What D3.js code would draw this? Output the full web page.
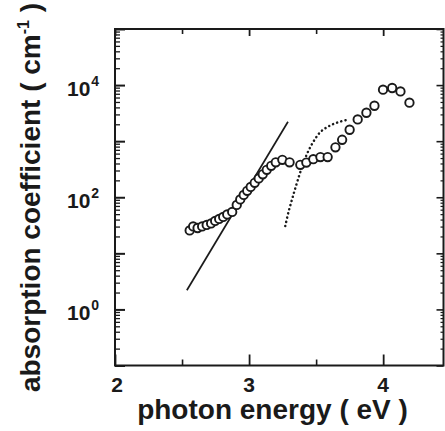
<!DOCTYPE html>
<html>
<head>
<meta charset="utf-8">
<script src="https://cdn.jsdelivr.net/npm/d3@7"></script>
<style>
  body { margin: 0; background: #fff; }
  svg { display: block; }
  text { font-family: "Liberation Sans", Arial, sans-serif; font-weight: bold; fill: #1a1a1a; }
</style>
</head>
<body>
<svg id="chart" width="445" height="431"></svg>
<script>
// measured points (photon energy in eV, absorption coefficient in cm^-1)
const energy = [2.557, 2.583, 2.616, 2.650, 2.684, 2.717, 2.747, 2.777, 2.807, 2.837,
  2.874, 2.908, 2.934, 2.960, 2.986, 3.012, 3.042, 3.072, 3.102, 3.132,
  3.165, 3.199, 3.248, 3.302, 3.382, 3.427, 3.479, 3.532, 3.586, 3.644,
  3.694, 3.750, 3.810, 3.875, 3.935, 3.999, 4.067, 4.129, 4.196];
const alpha = [25.6, 30.2, 28.3, 30.2, 32.1, 34.2, 37.9, 41.1, 44.6, 49.4,
  54.8, 73.1, 91.6, 110, 130, 153, 181, 217, 256, 308,
  363, 420, 465, 420, 378, 416, 478, 520, 520, 778,
  1059, 1597, 2440, 3210, 4280, 8270, 8870, 7710, 4850];

// straight fit line (solid)
const fitE = [2.536, 3.290];
const fitA = [2.2, 2220];

// dotted curve
const dotE = [3.270, 3.292, 3.319, 3.345, 3.375, 3.405, 3.442, 3.483, 3.532, 3.591, 3.659, 3.741];
const dotA = [30.7, 52.4, 89.3, 146, 249, 408, 668, 1009, 1459, 1828, 2153, 2438];

// axis ticks
const xMajor = [2, 3, 4];
const xMinor = [2.5, 3.5];
const yDecadeExp = [-1, 0, 1, 2, 3, 4, 5];
const yLabelExp = [0, 2, 4];

const svg = d3.select("#chart");
const pL = 115, pR = 443.5, pT = 29, pB = 365.5;

const x = d3.scaleLinear().domain([2, 4.45]).range([pL, pR]);
const y = d3.scaleLog().domain([0.1, 1e5]).range([pB, pT]);

const decades = yDecadeExp.map(e => Math.pow(10, e));
const minors = [];
yDecadeExp.slice(0, -1).forEach(e => {
  for (let k = 2; k <= 9; k++) minors.push(k * Math.pow(10, e));
});

function styleAxis(g, w) {
  g.select(".domain").remove();
  g.selectAll(".tick line").attr("stroke", "#1a1a1a").attr("stroke-width", w);
  g.selectAll(".tick text").remove();
}

// left axis
svg.append("g").attr("transform", `translate(${pL},0)`)
  .call(d3.axisLeft(y).tickValues(decades).tickSize(-10).tickFormat(""))
  .call(g => styleAxis(g, 2));
svg.append("g").attr("transform", `translate(${pL},0)`)
  .call(d3.axisLeft(y).tickValues(minors).tickSize(-5).tickFormat(""))
  .call(g => styleAxis(g, 1.3));

// right axis
svg.append("g").attr("transform", `translate(${pR},0)`)
  .call(d3.axisRight(y).tickValues(decades).tickSize(-7).tickFormat(""))
  .call(g => styleAxis(g, 1.6));
svg.append("g").attr("transform", `translate(${pR},0)`)
  .call(d3.axisRight(y).tickValues(minors).tickSize(-3).tickFormat(""))
  .call(g => styleAxis(g, 1.2));

// bottom and top axes
svg.append("g").attr("transform", `translate(0,${pB})`)
  .call(d3.axisBottom(x).tickValues(xMajor).tickSize(-11).tickFormat(""))
  .call(g => styleAxis(g, 1.8));
svg.append("g").attr("transform", `translate(0,${pB})`)
  .call(d3.axisBottom(x).tickValues(xMinor).tickSize(-6).tickFormat(""))
  .call(g => styleAxis(g, 1.6));
svg.append("g").attr("transform", `translate(0,${pT})`)
  .call(d3.axisTop(x).tickValues(xMajor).tickSize(-7).tickFormat(""))
  .call(g => styleAxis(g, 1.8));
svg.append("g").attr("transform", `translate(0,${pT})`)
  .call(d3.axisTop(x).tickValues(xMinor).tickSize(-5).tickFormat(""))
  .call(g => styleAxis(g, 1.6));

// frame
svg.append("rect")
  .attr("x", pL).attr("y", pT)
  .attr("width", pR - pL).attr("height", pB - pT)
  .attr("fill", "none").attr("stroke", "#1a1a1a").attr("stroke-width", 2);

// tick labels
svg.selectAll(".xlab").data(xMajor).enter().append("text")
  .attr("class", "xlab")
  .attr("x", d => x(d) + (d === 2 ? 2 : 0))
  .attr("y", 392)
  .attr("text-anchor", "middle")
  .attr("font-size", 21)
  .text(d => d);

const ylab = svg.selectAll(".ylab").data(yLabelExp).enter().append("text")
  .attr("class", "ylab")
  .attr("x", 67)
  .attr("y", d => y(Math.pow(10, d)) + 11)
  .attr("font-size", 21);
ylab.append("tspan").text("10");
ylab.append("tspan").attr("dx", 1).attr("dy", -10).attr("font-size", 14).text(d => d);

// fit line
const line = d3.line().x(d => x(d[0])).y(d => y(d[1]));
svg.append("path")
  .datum(d3.zip(fitE, fitA))
  .attr("d", line)
  .attr("fill", "none").attr("stroke", "#1a1a1a").attr("stroke-width", 1.7);

// dotted curve
svg.append("path")
  .datum(d3.zip(dotE, dotA))
  .attr("d", line.curve(d3.curveCatmullRom))
  .attr("fill", "none").attr("stroke", "#1a1a1a").attr("stroke-width", 2.5)
  .attr("stroke-linecap", "round").attr("stroke-dasharray", "0.1,4.2");

// data circles
svg.selectAll(".pt").data(d3.zip(energy, alpha)).enter().append("circle")
  .attr("class", "pt")
  .attr("cx", d => x(d[0]))
  .attr("cy", d => y(d[1]))
  .attr("r", 4.2)
  .attr("fill", "#fff")
  .attr("stroke", "#1a1a1a").attr("stroke-width", 1.9);

// axis titles
svg.append("text")
  .attr("x", 272.5).attr("y", 419)
  .attr("text-anchor", "middle")
  .attr("font-size", 28)
  .text("photon energy ( eV )");

const yt = svg.append("text")
  .attr("transform", "translate(40,197.5) rotate(-90)")
  .attr("text-anchor", "middle")
  .attr("font-size", 28);
yt.append("tspan").text("absorption coefficient ( cm");
yt.append("tspan").attr("dy", -11).attr("font-size", 16).text("-1");
yt.append("tspan").attr("dy", 11).text(" )");
</script>
</body>
</html>
